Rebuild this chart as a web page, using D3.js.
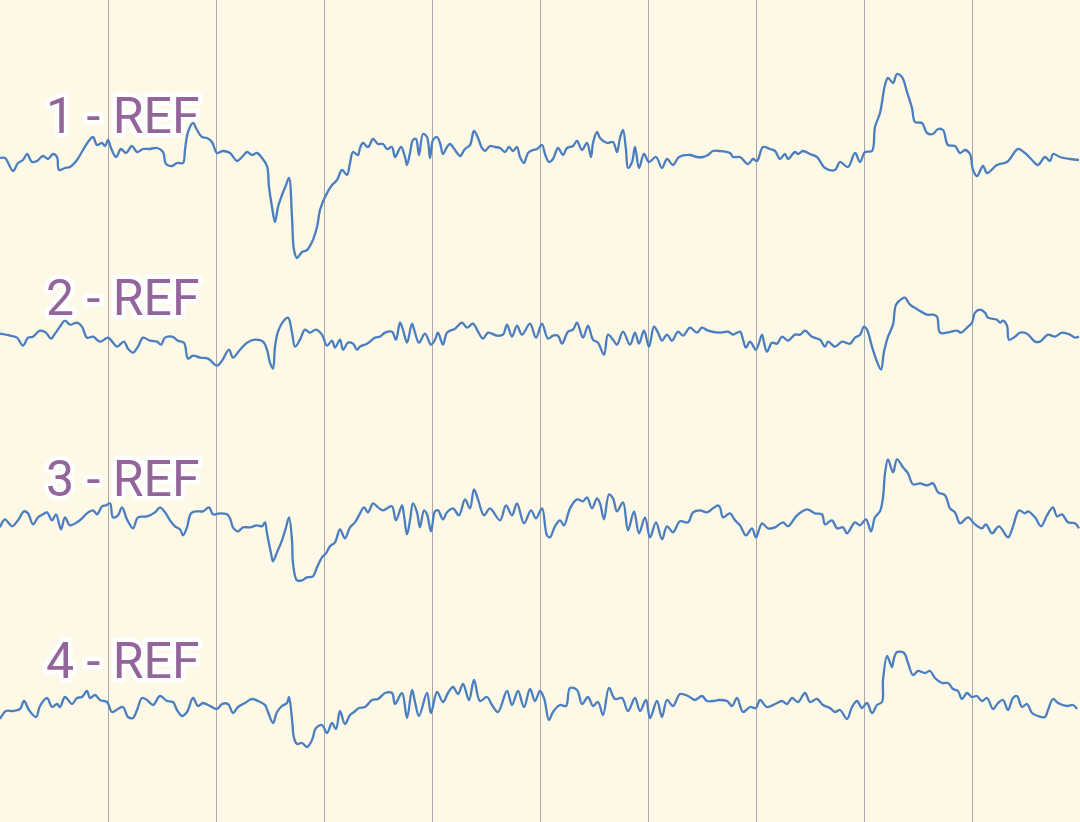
<!DOCTYPE html>
<html>
<head>
<meta charset="utf-8">
<script src="https://cdn.jsdelivr.net/npm/d3@7"></script>
<style>
  html, body { margin: 0; padding: 0; background: #fdf9e6; }
  svg { display: block; }
</style>
</head>
<body>
<svg id="chart" width="1080" height="822"></svg>
<script>
// Sampling rate (samples per second); each record is [sample index, amplitude µV]
const FS = 108;
const DURATION = 10; // seconds shown
const channels = ["1 - REF", "2 - REF", "3 - REF", "4 - REF"];
const gridSeconds = [1, 2, 3, 4, 5, 6, 7, 8, 9];

const ch1 = [[0,-3],[5,-3],[13,-16],[18,-8],[23,-5],[27,1],[32,-7],[37,-6],[43,-1],[48,-4],[53,1],[57,-2],[59,-15],[65,-13],[70,-12],[77,-5],[83,5],[88,13],[93,18],[97,10],[102,12],[105,9],[108,15],[111,7],[116,-2],[121,6],[126,2],[132,9],[137,3],[143,6],[150,6],[157,7],[163,3],[166,-9],[172,-11],[177,-8],[183,-8],[185,5],[188,23],[193,32],[197,25],[202,18],[207,17],[212,13],[217,2],[223,4],[230,2],[237,-6],[242,-2],[247,3],[252,0],[257,2],[262,-3],[267,-11],[269,-32],[272,-52],[275,-67],[278,-52],[282,-40],[286,-30],[289,-23],[292,-62],[294,-95],[297,-103],[302,-97],[307,-95],[312,-87],[317,-72],[320,-55],[325,-42],[332,-30],[337,-25],[342,-15],[347,-20],[350,-8],[353,3],[358,0],[360,7],[363,12],[368,8],[373,16],[378,11],[383,11],[387,6],[392,8],[395,-2],[401,8],[405,-2],[407,-10],[410,2],[413,15],[416,16],[419,0],[423,21],[427,18],[430,-3],[433,15],[437,18],[440,12],[443,1],[447,8],[450,11],[455,5],[460,-1],[465,6],[470,10],[474,24],[478,17],[482,7],[485,4],[490,9],[495,8],[500,7],[505,3],[509,8],[513,4],[517,8],[520,-2],[524,-8],[528,2],[533,5],[537,6],[542,10],[545,1],[549,-7],[553,-4],[558,7],[563,0],[567,7],[573,9],[577,14],[582,5],[587,12],[591,-2],[593,12],[597,23],[600,17],[607,12],[613,13],[617,3],[620,17],[623,25],[626,5],[628,-13],[632,-7],[635,8],[639,-13],[644,1],[649,-7],[656,-2],[662,-13],[667,-4],[673,-10],[679,-2],[690,0],[697,-2],[703,-2],[708,0],[713,4],[719,4],[730,2],[733,-2],[740,-2],[748,-9],[753,-4],[757,-6],[763,8],[770,6],[775,4],[780,-4],[785,1],[788,-4],[795,3],[798,1],[803,4],[810,1],[817,-2],[825,-13],[835,-15],[840,-7],[848,-12],[855,2],[860,-7],[865,3],[872,4],[875,28],[880,42],[885,70],[888,77],[893,72],[897,81],[902,78],[907,63],[912,47],[915,33],[922,32],[927,22],[933,21],[938,26],[943,25],[948,10],[955,9],[960,2],[965,5],[970,1],[973,-15],[977,-21],[983,-11],[987,-18],[997,-10],[1007,-7],[1018,6],[1025,2],[1032,-5],[1038,-10],[1045,-2],[1050,-6],[1053,1],[1060,-2],[1070,-4],[1079,-5]];

const ch2 = [[0,3],[10,1],[17,-1],[23,-9],[28,-1],[33,0],[40,6],[46,4],[51,-2],[55,3],[60,10],[65,16],[70,12],[77,14],[82,10],[87,-1],[93,0],[100,-5],[108,-1],[113,-6],[117,-10],[124,-5],[128,-12],[133,-16],[138,-10],[143,-1],[150,-4],[157,-5],[161,-8],[165,-1],[172,0],[178,-4],[184,-6],[188,-22],[193,-19],[200,-21],[208,-22],[217,-29],[222,-24],[229,-13],[233,-21],[240,-13],[247,-6],[255,-3],[263,-5],[267,-13],[270,-26],[273,-32],[275,-10],[278,5],[283,15],[288,19],[292,4],[295,-10],[300,-3],[305,7],[310,4],[316,7],[322,2],[327,-9],[332,-4],[335,-11],[340,-3],[343,-13],[348,-6],[353,-7],[357,-13],[360,-10],[367,-7],[375,-1],[380,0],[385,4],[392,5],[396,-3],[400,14],[403,7],[407,-6],[412,13],[415,4],[419,-6],[425,3],[431,-8],[435,-3],[438,4],[443,-8],[447,4],[455,8],[462,14],[467,9],[473,13],[478,5],[483,-2],[488,4],[497,1],[503,2],[507,12],[512,0],[517,11],[522,2],[530,13],[536,-1],[542,13],[548,-2],[553,1],[558,1],[562,-7],[568,5],[573,7],[577,14],[583,-1],[588,11],[593,-3],[598,-6],[604,-18],[608,2],[613,-3],[617,-8],[623,5],[630,-8],[635,4],[639,-7],[644,6],[649,-10],[654,10],[658,4],[662,-4],[667,2],[672,-4],[678,5],[683,1],[690,9],[697,4],[702,9],[708,6],[719,4],[728,5],[733,2],[740,5],[743,-3],[746,-11],[750,-5],[756,-13],[762,2],[764,-6],[767,-15],[772,-6],[777,-7],[782,0],[788,-4],[795,2],[800,2],[805,6],[812,0],[820,-3],[825,-10],[828,-5],[835,-10],[842,-5],[850,-7],[855,-1],[860,2],[864,10],[867,7],[872,-10],[877,-25],[881,-33],[884,-15],[888,0],[893,12],[896,32],[902,38],[905,39],[910,32],[918,27],[927,22],[933,22],[937,20],[940,4],[947,4],[957,6],[961,4],[968,10],[972,14],[975,24],[980,27],[985,24],[988,19],[997,17],[1000,14],[1003,16],[1007,11],[1009,-3],[1015,0],[1020,4],[1027,3],[1035,-5],[1040,-5],[1048,2],[1055,0],[1062,4],[1070,2],[1075,-1],[1079,0]];

const ch3 = [[0,-9],[5,-1],[12,-8],[18,-2],[24,7],[28,5],[33,-6],[38,1],[43,4],[47,6],[52,-2],[56,4],[61,-11],[65,1],[70,-7],[77,-4],[82,0],[87,5],[93,8],[97,4],[102,12],[106,13],[110,15],[113,1],[118,3],[122,11],[127,-1],[133,-10],[138,1],[147,2],[155,6],[160,11],[165,6],[170,-2],[175,-8],[180,-11],[183,-17],[187,-9],[191,5],[197,7],[203,7],[209,11],[213,4],[220,5],[227,4],[230,0],[233,-9],[238,-13],[243,-9],[250,-9],[257,-7],[262,-8],[265,-4],[267,-15],[271,-35],[273,-43],[277,-34],[282,-22],[286,-9],[289,1],[292,-22],[293,-45],[297,-62],[302,-62],[307,-59],[313,-58],[317,-49],[322,-39],[326,-35],[330,-28],[335,-24],[340,-11],[345,-20],[350,-9],[355,-4],[359,3],[364,11],[368,6],[373,15],[378,11],[383,8],[387,10],[392,12],[396,-2],[402,13],[404,3],[407,-16],[410,-2],[413,15],[417,6],[420,-9],[424,8],[427,4],[431,-13],[435,7],[438,8],[443,-1],[447,6],[453,10],[459,3],[465,19],[470,10],[474,29],[478,19],[484,3],[490,10],[500,-2],[506,13],[512,3],[517,15],[524,-5],[531,8],[536,0],[542,10],[547,-17],[550,-19],[555,-8],[560,-2],[564,-7],[570,10],[577,19],[583,17],[587,21],[592,10],[597,20],[600,15],[604,-1],[609,24],[613,20],[617,7],[623,16],[628,-12],[634,7],[639,-15],[645,1],[650,-19],[656,-4],[662,-21],[667,-8],[673,-14],[680,-3],[688,-4],[693,6],[700,8],[707,6],[713,10],[718,13],[720,11],[723,1],[730,5],[735,-2],[740,-7],[746,-17],[752,-10],[756,-19],[762,-5],[768,-10],[775,-9],[783,-4],[788,-8],[797,3],[807,9],[815,5],[822,4],[825,-6],[832,-2],[837,-10],[843,-9],[847,-15],[855,-4],[860,-7],[866,-1],[871,-13],[875,1],[880,7],[883,21],[885,45],[888,59],[893,46],[897,59],[903,51],[908,45],[913,34],[920,35],[927,33],[933,35],[938,26],[945,23],[950,10],[955,6],[960,-5],[968,1],[975,-6],[982,-10],[986,-6],[992,-15],[999,-8],[1008,-19],[1013,-8],[1019,8],[1025,5],[1028,7],[1035,1],[1041,-8],[1047,3],[1053,11],[1057,2],[1062,4],[1068,-4],[1075,-5],[1079,-10]];

const ch4 = [[0,-19],[6,-11],[13,-11],[20,-9],[24,-1],[29,-10],[36,-17],[40,-6],[47,2],[52,-7],[57,-4],[60,-7],[65,3],[72,-4],[77,2],[82,3],[87,9],[90,2],[95,5],[100,0],[107,-2],[112,-12],[118,-9],[123,-7],[128,-17],[133,-18],[137,-10],[142,2],[147,0],[153,-5],[160,4],[167,-1],[173,-2],[177,-10],[182,-16],[187,-12],[193,2],[198,-6],[203,-3],[210,-6],[217,-9],[222,-4],[228,-4],[233,-13],[238,-7],[245,-3],[252,1],[258,-1],[265,-5],[268,-12],[273,-23],[277,-12],[282,-6],[287,-3],[289,3],[292,-19],[294,-38],[297,-44],[302,-43],[307,-47],[312,-40],[316,-28],[322,-25],[327,-33],[332,-23],[336,-29],[340,-11],[345,-24],[350,-15],[354,-12],[359,-8],[365,-7],[372,0],[378,1],[385,7],[392,7],[395,-4],[402,7],[407,-18],[412,10],[415,-2],[419,-16],[427,7],[431,-13],[437,8],[443,-2],[448,7],[453,13],[458,6],[463,16],[469,0],[474,20],[480,-1],[487,3],[492,-5],[498,-12],[507,9],[512,-5],[518,9],[524,-7],[530,11],[535,-1],[540,9],[544,2],[549,-20],[553,-12],[560,-5],[566,-6],[570,12],[577,10],[582,-4],[588,3],[593,-6],[598,-2],[603,-15],[609,12],[615,1],[622,2],[628,-11],[635,2],[640,-11],[646,0],[650,-18],[657,-1],[662,-17],[667,0],[673,-6],[680,6],[688,4],[695,0],[702,4],[707,-1],[713,-1],[719,0],[727,-1],[732,-6],[737,2],[743,-12],[750,-7],[756,-8],[760,0],[767,-7],[775,-4],[782,-1],[787,-4],[792,2],[798,-2],[805,7],[810,-2],[817,1],[823,-5],[830,-8],[835,-12],[840,-10],[847,-19],[852,-7],[857,-1],[862,-8],[867,-3],[872,-13],[877,-5],[882,-2],[883,20],[887,44],[889,40],[892,33],[894,42],[897,48],[904,47],[908,37],[913,25],[918,29],[925,27],[930,29],[935,22],[942,17],[948,17],[953,11],[958,9],[962,1],[967,7],[972,3],[977,4],[982,-1],[987,2],[993,-9],[998,-3],[1003,0],[1008,-10],[1013,2],[1017,4],[1022,-7],[1027,-4],[1032,-13],[1038,-16],[1045,-17],[1048,-10],[1053,1],[1058,-3],[1067,-6],[1073,-5],[1077,-9]];

const series = [ch1, ch2, ch3, ch4];

const W = 1080, H = 822;
const svg = d3.select("#chart");

svg.append("rect").attr("width", W).attr("height", H).attr("fill", "#fdf9e6");

const x = d3.scaleLinear().domain([0, DURATION]).range([0, W]);
const lane = d3.scalePoint().domain(channels).range([155, 700]);
const amp = d3.scaleLinear().domain([-100, 100]).range([100, -100]);

// vertical second gridlines
svg.append("g")
  .selectAll("line")
  .data(gridSeconds)
  .join("line")
  .attr("x1", d => Math.round(x(d)) + 0.5)
  .attr("x2", d => Math.round(x(d)) + 0.5)
  .attr("y1", 0)
  .attr("y2", H)
  .attr("stroke", "#a9a9ad")
  .attr("stroke-width", 1);

// traces
channels.forEach((name, i) => {
  const base = lane(name);
  const line = d3.line()
    .curve(d3.curveCatmullRom.alpha(0.5))
    .x(d => x(d[0] / FS))
    .y(d => base + amp(d[1]));
  svg.append("path")
    .datum(series[i])
    .attr("d", line)
    .attr("fill", "none")
    .attr("stroke", "#4a7ec0")
    .attr("stroke-width", 2.3)
    .attr("stroke-linejoin", "round");
});

// channel labels
svg.append("g")
  .selectAll("text")
  .data(channels)
  .join("text")
  .attr("x", 46)
  .attr("y", d => lane(d) - 22)
  .text(d => d)
  .attr("font-family", "Roboto, 'Noto Sans', sans-serif")
  .attr("font-size", 50)
  .attr("fill", "#93659a")
  .attr("stroke", "#ffffff")
  .attr("stroke-width", 9)
  .attr("stroke-linejoin", "round")
  .attr("paint-order", "stroke");
</script>
</body>
</html>
